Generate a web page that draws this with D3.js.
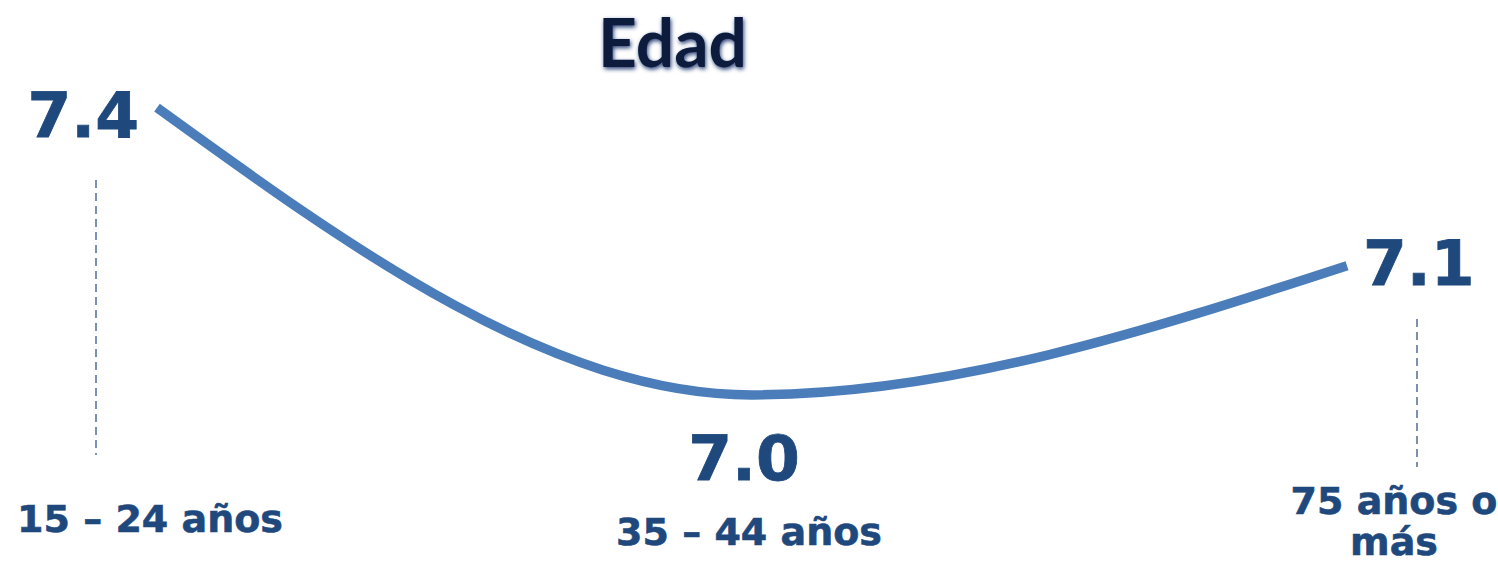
<!DOCTYPE html>
<html>
<head>
<meta charset="utf-8">
<script src="https://cdn.jsdelivr.net/npm/d3@7"></script>
<style>
  html, body { margin: 0; padding: 0; background: #ffffff; }
  svg { display: block; }
</style>
</head>
<body>
<svg id="chart" width="1498" height="561"></svg>
<script>
// ---- data ----
const title = "Edad";
const categories = ["15 – 24 años", "35 – 44 años", "75 años o más"];
const values = [7.36, 6.96, 7.14];
const yTicks = [6.9, 7.4];

// ---- layout ----
const svg = d3.select("#chart");
const fontMain = "'DejaVu Sans', Verdana, sans-serif";
const textColor = "#1f497d";
const lineColor = "#4a7dba";

const x = d3.scaleLinear().domain([0, categories.length - 1]).range([157, 1347]);
const xCat = d3.scaleLinear().domain([0, categories.length - 1]).range([96, 1417]);
const y = d3.scaleLinear().domain(yTicks).range([438, 79]);
const fmt = d3.format(".1f");

// title glow filter
const defs = svg.append("defs");
const f = defs.append("filter").attr("id", "glow")
  .attr("x", "-20%").attr("y", "-30%").attr("width", "140%").attr("height", "160%");
f.append("feGaussianBlur").attr("in", "SourceAlpha").attr("stdDeviation", 2.2).attr("result", "b");
f.append("feOffset").attr("in", "b").attr("dx", 1).attr("dy", 1.5).attr("result", "o");
f.append("feFlood").attr("flood-color", "#0f2a66").attr("flood-opacity", 0.9).attr("result", "c");
f.append("feComposite").attr("in", "c").attr("in2", "o").attr("operator", "in").attr("result", "s");
const fm = f.append("feMerge");
fm.append("feMergeNode").attr("in", "s");
fm.append("feMergeNode").attr("in", "SourceGraphic");

svg.append("text")
  .attr("x", 598).attr("y", 67)
  .attr("font-family", "Lato, 'Open Sans', sans-serif")
  .attr("font-weight", "bold")
  .attr("font-size", 67)
  .attr("textLength", 149)
  .attr("lengthAdjust", "spacingAndGlyphs")
  .attr("fill", "#0a1a3e")
  .attr("filter", "url(#glow)")
  .text(title);

// dashed guide lines (first and last category)
const guides = [
  { i: 0, y1: 180, y2: 455 },
  { i: 2, y1: 319, y2: 467 }
];
svg.selectAll("line.guide").data(guides).join("line")
  .attr("class", "guide")
  .attr("x1", d => xCat(d.i)).attr("x2", d => xCat(d.i))
  .attr("y1", d => d.y1).attr("y2", d => d.y2)
  .attr("stroke", "#4f6d96")
  .attr("stroke-width", 1.5)
  .attr("stroke-dasharray", "8,5");

// line
const line = d3.line()
  .x((d, i) => x(i))
  .y(d => y(d))
  .curve(d3.curveMonotoneX);
svg.append("path")
  .datum(values)
  .attr("d", line)
  .attr("fill", "none")
  .attr("stroke", lineColor)
  .attr("stroke-width", 9.5);

// value labels
const valPos = [
  { dx: -18, dy: 29, anchor: "end" },
  { dx: -8, dy: 85, anchor: "middle" },
  { dx: 16, dy: 19, anchor: "start" }
];
svg.selectAll("text.val").data(values).join("text")
  .attr("class", "val")
  .attr("x", (d, i) => x(i) + valPos[i].dx)
  .attr("y", (d, i) => y(d) + valPos[i].dy)
  .attr("text-anchor", (d, i) => valPos[i].anchor)
  .attr("font-family", fontMain)
  .attr("font-weight", "bold")
  .attr("font-size", 63)
  .attr("fill", textColor)
  .attr("stroke", textColor)
  .attr("stroke-width", 0.8)
  .text(d => fmt(d));

// category labels
const catPos = [
  { cx: 150, y0: 532 },
  { cx: 749, y0: 545 },
  { cx: 1394, y0: 514 }
];
const catLines = [["15 – 24 años"], ["35 – 44 años"], ["75 años o", "más"]];
categories.forEach((c, i) => {
  const p = catPos[i];
  const t = svg.append("text")
    .attr("text-anchor", "middle")
    .attr("font-family", fontMain)
    .attr("font-weight", "bold")
    .attr("font-size", 38)
    .attr("fill", textColor)
    .attr("stroke", textColor)
    .attr("stroke-width", 0.6);
  catLines[i].forEach((s, k) => {
    t.append("tspan").attr("x", p.cx).attr("y", p.y0 + k * 41).text(s);
  });
});
</script>
</body>
</html>
